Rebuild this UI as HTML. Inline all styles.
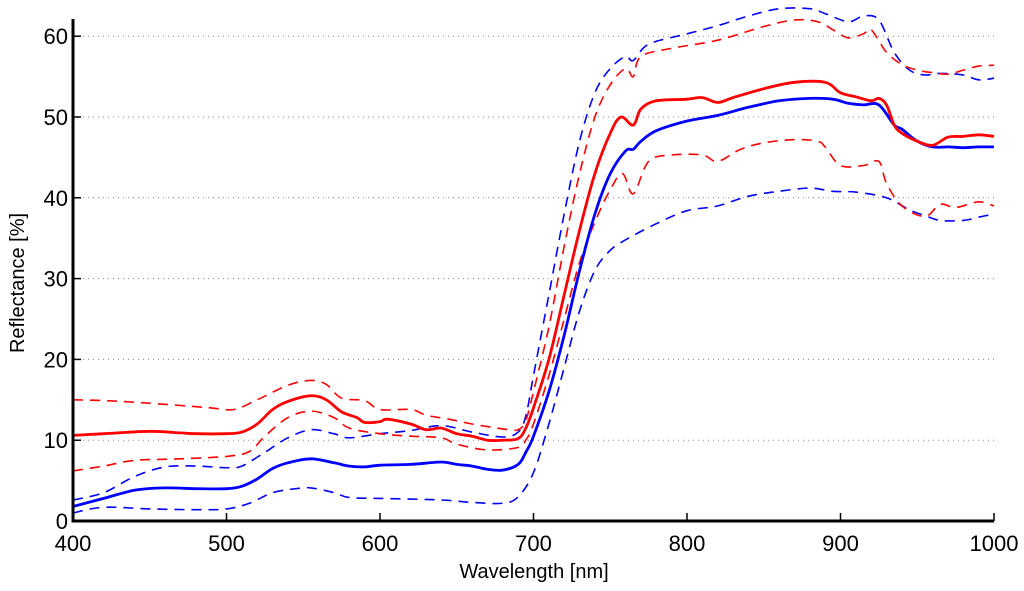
<!DOCTYPE html>
<html><head><meta charset="utf-8"><style>
body{margin:0;background:#fff;}
svg{display:block;font-family:"Liberation Sans",sans-serif;}
</style></head><body>
<svg id="chart" width="1024" height="591"></svg>
<script>
const ticksX = [400,500,600,700,800,900,1000];
const ticksY = [0,10,20,30,40,50,60];
const redMean = [[400,10.6],[420,10.8],[450,11.1],[470,10.9],[480,10.8],[500,10.8],[510,11],[520,12],[530,13.8],[540,14.8],[555,15.5],[565,15],[575,13.5],[585,12.8],[590,12.2],[600,12.3],[605,12.6],[620,12],[630,11.3],[640,11.5],[650,10.8],[660,10.5],[670,10],[680,10],[690,10.2],[695,11.5],[700,14],[710,20],[720,28],[730,36],[740,43],[750,48],[757,50],[765,49],[770,51],[780,52],[800,52.2],[810,52.4],[820,51.8],[830,52.4],[850,53.5],[870,54.3],[890,54.3],[900,53],[910,52.5],[920,52],[925,52.3],[930,51.5],[935,49],[940,48],[950,47],[960,46.5],[970,47.5],[980,47.6],[990,47.8],[1000,47.6]];
const blueMean = [[400,1.8],[420,2.8],[440,3.8],[460,4.1],[480,4.0],[500,4.0],[510,4.3],[520,5.2],[530,6.5],[540,7.2],[555,7.7],[570,7.2],[580,6.8],[590,6.7],[600,6.9],[620,7.0],[640,7.3],[650,7.0],[660,6.8],[670,6.4],[680,6.3],[690,7.0],[695,8.5],[700,10.5],[710,16],[720,23],[730,31],[740,38],[750,43],[760,45.8],[765,46],[770,47],[780,48.3],[800,49.5],[820,50.2],[840,51.2],[860,52],[880,52.3],[895,52.2],[905,51.7],[915,51.5],[925,51.5],[935,49],[940,48.5],[950,47],[960,46.3],[970,46.3],[980,46.2],[990,46.3],[1000,46.3]];
const redUpper = [[400,15],[420,14.9],[440,14.7],[470,14.3],[490,14],[505,13.8],[520,15],[540,16.8],[555,17.4],[565,16.9],[575,15.2],[590,14.9],[600,13.8],[620,13.8],[630,13.1],[645,12.6],[660,12],[680,11.4],[690,11.3],[695,12.5],[700,16],[710,24],[720,34],[730,43],[740,50],[750,54],[760,56],[765,55],[770,57.5],[790,58.5],[820,59.5],[850,61.2],[870,62],[885,61.8],[895,60.8],[905,59.8],[915,60.3],[920,60.8],[930,58],[940,56.5],[950,55.8],[960,55.5],[970,55.3],[980,55.8],[990,56.3],[1000,56.4]];
const redLower = [[400,6.2],[420,6.8],[440,7.5],[470,7.7],[500,8.0],[515,8.6],[525,10.5],[540,12.8],[555,13.6],[570,12.8],[580,11.5],[600,10.8],[620,10.5],[640,10.3],[650,9.5],[670,8.8],[690,9.1],[695,10],[700,12],[710,18],[720,25],[730,32],[740,37],[750,41],[758,43],[765,40.5],[775,44.5],[790,45.3],[810,45.3],[820,44.5],[835,46],[850,46.8],[870,47.2],[885,47],[890,46.3],[900,44],[915,44],[925,44.5],[930,41.8],[940,39],[955,37.7],[965,39.2],[975,38.8],[990,39.5],[1000,39]];
const blueUpper = [[400,2.6],[420,3.5],[440,5.5],[460,6.7],[480,6.8],[500,6.6],[510,6.8],[525,8.5],[540,10.3],[555,11.3],[570,10.8],[580,10.3],[600,10.8],[620,11.2],[640,11.8],[660,11.0],[680,10.4],[690,11.0],[695,13],[700,18],[710,28],[720,38],[730,47],[740,53],[750,56],[760,57.5],[765,57],[775,59],[800,60.3],[820,61.3],[840,62.5],[860,63.4],[880,63.4],[890,62.8],[905,61.8],[915,62.5],[925,62],[935,58],[945,55.8],[955,55.2],[965,55.4],[980,55.2],[990,54.6],[1000,54.8]];
const blueLower = [[400,1.0],[420,1.7],[450,1.5],[480,1.4],[500,1.5],[515,2.2],[530,3.5],[545,4.0],[555,4.1],[570,3.5],[580,2.9],[600,2.8],[640,2.6],[660,2.3],[680,2.2],[690,3],[700,6],[710,12],[720,19],[730,26],[740,31],[750,33.5],[760,34.8],[780,36.8],[800,38.4],[820,39],[840,40.2],[860,40.8],[880,41.2],[895,40.8],[910,40.7],[930,40],[945,38.5],[955,37.8],[965,37.2],[980,37.2],[990,37.6],[1000,38]];

const NS="http://www.w3.org/2000/svg";
const svg=document.getElementById('chart');
const X0=73,X1=994,Y0=521,YS=8.08;
const sx=v=>X0+(v-400)/600*(X1-X0);
const sy=v=>Y0-v*YS;
function mk(t,a){const e=document.createElementNS(NS,t);for(const k in a)e.setAttribute(k,a[k]);svg.appendChild(e);return e;}
ticksY.forEach(v=>{ if(v===0)return;
 const g=mk('line',{x1:X0,x2:X1,y1:sy(v),y2:sy(v),stroke:'#888','stroke-width':1,'stroke-dasharray':'1,4'});
 
 
});
function smooth(d){
 const P=d.map(q=>[sx(q[0]),sy(q[1])]);
 let s='M'+P[0][0].toFixed(1)+','+P[0][1].toFixed(1);
 for(let i=0;i<P.length-1;i++){
  const p0=P[i-1]||P[i],p1=P[i],p2=P[i+1],p3=P[i+2]||P[i+1];
  const c1=[p1[0]+(p2[0]-p0[0])/6,p1[1]+(p2[1]-p0[1])/6];
  const c2=[p2[0]-(p3[0]-p1[0])/6,p2[1]-(p3[1]-p1[1])/6];
  s+='C'+c1.map(n=>n.toFixed(1))+' '+c2.map(n=>n.toFixed(1))+' '+p2.map(n=>n.toFixed(1));
 }
 return s;
}
function series(d,color,dash,w,name){
 const p=mk('path',{d:smooth(d),fill:'none',stroke:color,'stroke-width':w,'stroke-linejoin':'round'});
 if(dash)p.setAttribute('stroke-dasharray',dash);
 
 
}
series(blueUpper,'#0000ff','10,7',1.6,'blue-upper-dashed');
series(blueLower,'#0000ff','10,7',1.6,'blue-lower-dashed');
series(redUpper,'#ff0000','10,7',1.6,'red-upper-dashed');
series(redLower,'#ff0000','10,7',1.6,'red-lower-dashed');
series(blueMean,'#0000ff',null,2.8,'blue-mean-line');
series(redMean,'#ff0000',null,2.8,'red-mean-line');
const ax=mk('path',{d:`M${X0},19L${X0},${Y0}L${X1},${Y0}`,fill:'none',stroke:'#000','stroke-width':3});


ticksX.forEach(v=>{
 const t=mk('line',{x1:sx(v),x2:sx(v),y1:Y0,y2:Y0-8,stroke:'#000','stroke-width':1.5});
 
 
 const l=mk('text',{x:sx(v),y:Y0+30,'text-anchor':'middle','font-size':22});
 l.textContent=v;
 
 
});
ticksY.forEach(v=>{
 const t=mk('line',{x1:X0,x2:X0+8,y1:sy(v),y2:sy(v),stroke:'#000','stroke-width':1.5});
 
 
 const l=mk('text',{x:X0-5,y:sy(v)+8,'text-anchor':'end','font-size':22});
 l.textContent=v;
 
 
});
const xt=mk('text',{x:534,y:578,'text-anchor':'middle','font-size':20});
xt.textContent='Wavelength [nm]';


const yt=mk('text',{x:0,y:0,'text-anchor':'middle','font-size':20,transform:'translate(24,283) rotate(-90)'});
yt.textContent='Reflectance [%]';


</script>
</body></html>
